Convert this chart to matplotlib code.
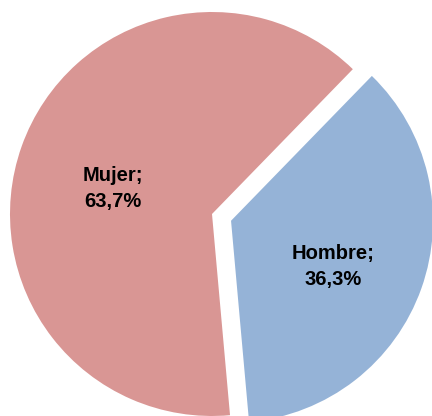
import numpy as np
import matplotlib.pyplot as plt

labels = ['Mujer', 'Hombre']
values = [63.7, 36.3]
colors = ['#D99694', '#95B3D7']
explode = [0, 0.1]

fig = plt.figure(figsize=(4.32, 4.16), dpi=100)
ax = fig.add_axes([0, 0, 1, 1])

wedges, _ = ax.pie(values, colors=colors, explode=explode, startangle=45.8,
                   counterclock=True, radius=1.0,
                   wedgeprops=dict(linewidth=0))

for w, lab, v in zip(wedges, labels, values):
    mid = np.deg2rad((w.theta1 + w.theta2) / 2)
    cx, cy = w.center
    r = 0.53
    ax.text(cx + r * np.cos(mid) + 0.008, cy + r * np.sin(mid) - 0.05,
            '%s;\n%s%%' % (lab, ('%.1f' % v).replace('.', ',')),
            ha='center', va='center', fontsize=14.5, fontweight='bold',
            family=['Liberation Sans Narrow', 'Liberation Sans'],
            linespacing=1.45)

ax.set_xlim(-212 / 202, 220 / 202)
ax.set_ylim(-1.0, 214 / 202)
ax.set_aspect('auto')
ax.axis('off')

fig.savefig('out.png', dpi=100)
